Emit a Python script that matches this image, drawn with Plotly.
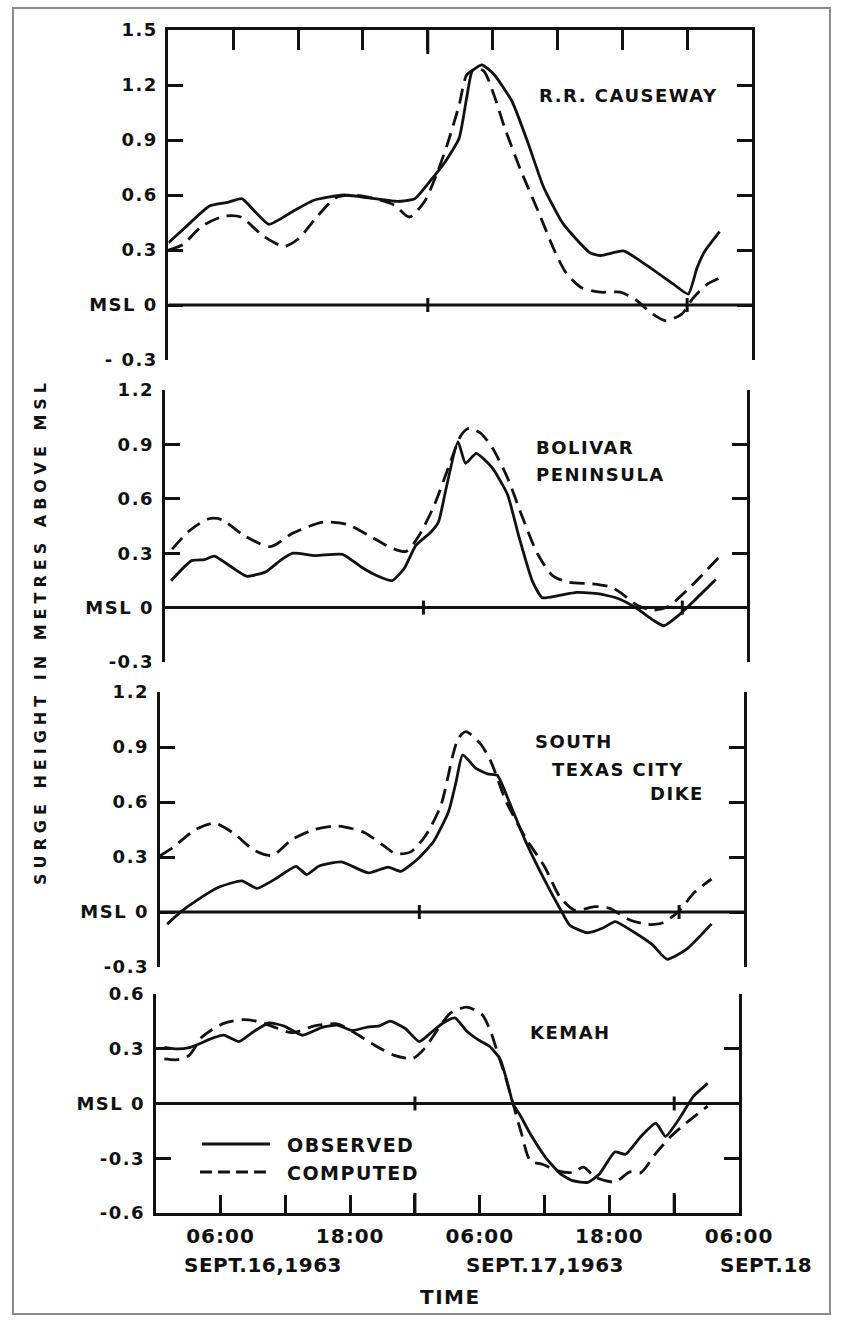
import plotly.graph_objects as go

# Time axis: hours after 00:00, Sept. 16, 1963
# ---------------- R.R. CAUSEWAY ----------------
rr_obs_t = [0.0, 1.5, 3.8, 5.5, 6.8, 8.0, 9.3, 11.5, 13.4, 16.2, 19.1, 21.2, 22.8, 24.2, 25.6,
            26.9, 27.6, 28.1, 29.0, 30.1, 31.8, 33.3, 34.7, 36.5, 39.0, 40.0, 42.1, 44.3, 46.7,
            48.1, 48.9, 49.6, 51.0]
rr_obs_v = [0.34, 0.42, 0.54, 0.56, 0.58, 0.51, 0.44, 0.51, 0.57, 0.60, 0.58, 0.565, 0.58, 0.675,
            0.78, 0.91, 1.13, 1.275, 1.31, 1.26, 1.11, 0.88, 0.645, 0.445, 0.285, 0.27, 0.295,
            0.215, 0.115, 0.06, 0.20, 0.29, 0.40]
rr_cmp_t = [0.0, 1.35, 3.1, 5.2, 6.7, 8.8, 10.7, 12.0, 13.8, 15.5, 17.0, 19.1, 20.9, 22.3, 23.7,
            24.8, 25.8, 26.9, 27.6, 28.5, 29.2, 30.1, 31.1, 32.6, 34.3, 35.7, 36.8, 38.2, 40.0,
            41.8, 43.2, 44.6, 46.0, 47.5, 48.5, 49.9, 51.5]
rr_cmp_v = [0.30, 0.33, 0.43, 0.485, 0.48, 0.375, 0.32, 0.36, 0.485, 0.585, 0.60, 0.58, 0.545,
            0.48, 0.565, 0.71, 0.875, 1.09, 1.255, 1.29, 1.275, 1.15, 0.97, 0.735, 0.50, 0.30,
            0.175, 0.095, 0.07, 0.07, 0.03, -0.04, -0.085, -0.05, 0.035, 0.115, 0.16]

# ---------------- BOLIVAR PENINSULA ----------------
bp_obs_t = [0.6, 2.5, 3.7, 4.6, 6.2, 7.6, 9.4, 10.8, 11.9, 14.0, 16.5, 18.3, 19.7, 21.1, 22.2,
            23.3, 24.7, 25.4, 26.1, 27.2, 27.9, 28.9, 30.4, 31.8, 32.8, 34.1, 35.0, 36.4, 38.2,
            40.3, 42.1, 43.8, 45.3, 46.3, 47.7, 49.2, 51.1]
bp_obs_v = [0.148, 0.259, 0.265, 0.284, 0.224, 0.173, 0.198, 0.263, 0.30, 0.287, 0.294, 0.221,
            0.176, 0.149, 0.214, 0.343, 0.417, 0.473, 0.657, 0.915, 0.796, 0.851, 0.769, 0.623,
            0.403, 0.146, 0.055, 0.065, 0.084, 0.076, 0.049, -0.005, -0.069, -0.10, -0.04,
            0.044, 0.155]
bp_cmp_t = [0.7, 2.3, 4.1, 5.3, 7.3, 9.8, 11.9, 14.7, 16.9, 19.0, 21.1, 22.4, 23.6, 25.0, 26.4,
            27.5, 28.2, 29.3, 30.4, 31.8, 33.2, 34.6, 36.0, 37.5, 39.6, 41.4, 42.4, 43.8, 45.3,
            46.7, 48.8, 51.5]
bp_cmp_v = [0.322, 0.424, 0.49, 0.485, 0.40, 0.336, 0.411, 0.471, 0.459, 0.396, 0.327, 0.31,
            0.398, 0.564, 0.786, 0.952, 0.989, 0.962, 0.88, 0.715, 0.495, 0.294, 0.175, 0.139,
            0.131, 0.113, 0.077, 0.013, -0.014, 0.006, 0.117, 0.284]

# ---------------- SOUTH TEXAS CITY DIKE ----------------
tc_obs_t = [0.7, 1.9, 3.4, 5.5, 7.6, 9.0, 10.8, 12.6, 13.6, 14.7, 16.8, 19.3, 21.1, 22.3, 23.9,
            25.3, 26.7, 27.4, 28.0, 29.2, 30.3, 31.2, 32.4, 33.8, 35.6, 37.0, 37.9, 39.5, 40.9,
            42.1, 43.7, 45.5, 46.9, 48.7, 51.0]
tc_obs_v = [-0.066, -0.002, 0.062, 0.136, 0.17, 0.129, 0.184, 0.249, 0.204, 0.25, 0.273, 0.213,
            0.245, 0.222, 0.292, 0.383, 0.547, 0.711, 0.857, 0.785, 0.753, 0.746, 0.587, 0.388,
            0.171, 0.018, -0.072, -0.113, -0.089, -0.052, -0.105, -0.177, -0.258, -0.203,
            -0.065]
tc_cmp_t = [0.0, 1.2, 3.4, 5.1, 6.9, 8.7, 10.4, 12.2, 14.3, 16.5, 18.9, 20.7, 21.8, 23.2, 24.6,
            26.0, 27.1, 27.6, 28.3, 29.6, 30.6, 32.0, 33.8, 35.6, 37.0, 38.4, 40.2, 41.6, 43.4,
            45.1, 46.5, 48.0, 49.4, 51.0]
tc_cmp_v = [0.305, 0.351, 0.452, 0.484, 0.427, 0.338, 0.308, 0.394, 0.45, 0.469, 0.434, 0.362,
            0.318, 0.328, 0.419, 0.583, 0.856, 0.947, 0.984, 0.921, 0.822, 0.605, 0.406, 0.244,
            0.081, 0.009, 0.029, 0.02, -0.042, -0.068, -0.059, 0.006, 0.106, 0.18]

# ---------------- KEMAH ----------------
km_obs_t = [0.8, 2.0, 3.1, 4.1, 5.2, 6.3, 7.7, 9.1, 10.5, 11.9, 13.6, 15.4, 16.8, 18.2, 19.6,
            20.7, 21.7, 23.1, 24.4, 25.6, 26.6, 27.7, 28.8, 29.8, 30.9, 31.9, 32.6, 33.1, 33.7,
            34.7, 36.1, 37.5, 38.6, 40.0, 41.1, 42.5, 43.5, 44.9, 46.3, 47.2, 48.4, 49.8, 51.1]
km_obs_v = [0.308, 0.299, 0.306, 0.329, 0.357, 0.375, 0.339, 0.395, 0.442, 0.424, 0.374, 0.417,
            0.43, 0.40, 0.419, 0.425, 0.451, 0.411, 0.339, 0.394, 0.441, 0.469, 0.396, 0.351,
            0.314, 0.242, 0.105, -0.005, -0.06, -0.169, -0.296, -0.387, -0.423, -0.432, -0.385,
            -0.266, -0.278, -0.182, -0.108, -0.18, -0.089, 0.04, 0.11]
km_cmp_t = [0.8, 2.0, 3.1, 4.3, 6.3, 8.0, 9.4, 10.8, 12.6, 14.7, 16.8, 18.6, 20.3, 22.1, 23.8,
            24.9, 26.3, 27.3, 28.8, 30.2, 31.0, 31.6, 32.4, 33.1, 33.8, 34.7, 35.8, 37.2, 38.6,
            39.6, 40.7, 42.5, 43.9, 44.9, 46.3, 47.7, 49.1, 51.1]
km_cmp_v = [0.244, 0.24, 0.264, 0.365, 0.439, 0.459, 0.45, 0.423, 0.388, 0.425, 0.436, 0.381,
            0.318, 0.264, 0.247, 0.302, 0.422, 0.496, 0.528, 0.488, 0.397, 0.287, 0.141, -0.005,
            -0.151, -0.316, -0.333, -0.369, -0.378, -0.349, -0.404, -0.43, -0.375, -0.38,
            -0.273, -0.18, -0.107, -0.014]

# station names, one list of text lines per panel
station_lines = [["R.R. CAUSEWAY"], ["BOLIVAR", "PENINSULA"],
                 ["SOUTH", "TEXAS CITY", "DIKE"], ["KEMAH"]]

# y-axis ticks per panel
y_ranges = [[-0.3, 1.5], [-0.3, 1.2], [-0.3, 1.2], [-0.6, 0.6]]
y_tickvals = [[1.5, 1.2, 0.9, 0.6, 0.3, 0.0, -0.3],
              [1.2, 0.9, 0.6, 0.3, 0.0, -0.3],
              [1.2, 0.9, 0.6, 0.3, 0.0, -0.3],
              [0.6, 0.3, 0.0, -0.3, -0.6]]
y_ticktext = [["1.5", "1.2", "0.9", "0.6", "0.3", "MSL 0", "- 0.3"],
              ["1.2", "0.9", "0.6", "0.3", "MSL 0", "-0.3"],
              ["1.2", "0.9", "0.6", "0.3", "MSL 0", "-0.3"],
              ["0.6", "0.3", "MSL 0", "-0.3", "-0.6"]]

# time axis
x_range = [0, 54]
x_tickvals = [6, 12, 18, 24, 30, 36, 42, 48, 54]
x_ticktext = ["06:00", "", "18:00", "", "06:00", "", "18:00", "", "06:00"]
day_labels = ["SEPT.16,1963", "SEPT.17,1963", "SEPT.18"]
day_label_x = [9.9, 36.0, 56.5]
day_ticks = [24, 48]

# ---------------- figure geometry (pixels) ----------------
FW, FH = 843, 1324
ML, MR, MT, MB = 150, 83, 25, 100
PW = FW - ML - MR
PH = FH - MT - MB


def px_x(px):
    return (px - ML) / PW


def px_y(py):
    return (FH - MB - py) / PH


panel_x = [(168.4, 752.0), (164.6, 747.0), (159.6, 744.0), (155.7, 739.0)]
panel_y = [(30, 360), (390, 662), (692, 967), (994, 1213)]
# pixel (left, centre-y) of each line of the station names
label_px = [[(537, 96)], [(534, 447), (534, 474)],
            [(533, 742), (550, 769), (648, 793)], [(528, 1032)]]

FONT = "DejaVu Sans, Verdana, sans-serif"
INK = "#111111"


def spaced(text, sp):
    return f'<span style="letter-spacing:{sp}px">{text}</span>'


def x_hours_to_px(h):
    left, right = panel_x[3]
    return left + (right - left) * (h - x_range[0]) / (x_range[1] - x_range[0])


fig = go.Figure()

series = [
    (rr_obs_t, rr_obs_v, rr_cmp_t, rr_cmp_v),
    (bp_obs_t, bp_obs_v, bp_cmp_t, bp_cmp_v),
    (tc_obs_t, tc_obs_v, tc_cmp_t, tc_cmp_v),
    (km_obs_t, km_obs_v, km_cmp_t, km_cmp_v),
]

for i, (ot, ov, ct, cv) in enumerate(series):
    n = "" if i == 0 else str(i + 1)
    fig.add_trace(go.Scatter(x=ct, y=cv, mode="lines", xaxis="x" + n, yaxis="y" + n,
                             line=dict(color=INK, width=2.8, dash="15px,8px",
                                       shape="spline", smoothing=0.7),
                             name="COMPUTED", showlegend=False))
    fig.add_trace(go.Scatter(x=ot, y=ov, mode="lines", xaxis="x" + n, yaxis="y" + n,
                             line=dict(color=INK, width=2.8, shape="spline", smoothing=0.5),
                             name="OBSERVED", showlegend=False))

layout = dict(width=FW, height=FH, margin=dict(l=ML, r=MR, t=MT, b=MB),
              paper_bgcolor="white", plot_bgcolor="white", showlegend=False,
              font=dict(family=FONT, color=INK))

tickfont = dict(family=FONT, size=18, color=INK, weight="bold")

for i in range(4):
    n = "" if i == 0 else str(i + 1)
    xd = [px_x(panel_x[i][0]), px_x(panel_x[i][1])]
    yd = [px_y(panel_y[i][1]), px_y(panel_y[i][0])]
    xa = dict(domain=xd, range=x_range, anchor="y" + n, showgrid=False, zeroline=False,
              fixedrange=True)
    if i == 0:
        xa.update(side="top", showline=True, linewidth=3, linecolor=INK, ticks="inside",
                  tickvals=x_tickvals[:-1], ticklen=20, tickwidth=3, tickcolor=INK,
                  showticklabels=False)
    elif i == 3:
        xa.update(side="bottom", showline=True, linewidth=3, linecolor=INK, ticks="inside",
                  tickvals=x_tickvals, ticktext=[spaced(t, 1) for t in x_ticktext],
                  ticklen=18, tickwidth=3, tickcolor=INK, ticklabelstandoff=3,
                  tickfont=dict(family=FONT, size=20, color=INK, weight="bold"))
    else:
        xa.update(visible=False)
    ya = dict(domain=yd, range=y_ranges[i], anchor="x" + n, showgrid=False, zeroline=False,
              showline=True, linewidth=3, linecolor=INK, mirror="ticks", ticks="inside",
              ticklen=15, tickwidth=3, tickcolor=INK, tickvals=y_tickvals[i],
              ticktext=[spaced(t, 1.5) for t in y_ticktext[i]], tickfont=tickfont,
              ticklabelstandoff=4, fixedrange=True)
    layout["xaxis" + n] = xa
    layout["yaxis" + n] = ya

fig.update_layout(**layout)

shapes = []
for i in range(4):
    n = "" if i == 0 else str(i + 1)
    # mean sea level line
    shapes.append(dict(type="line", xref="x" + n, yref="y" + n, x0=x_range[0], x1=x_range[1],
                       y0=0, y1=0, line=dict(color=INK, width=3)))
    # day-boundary marks on the MSL line
    for d in day_ticks:
        shapes.append(dict(type="line", xref="x" + n, yref="y" + n, x0=d, x1=d,
                           ysizemode="pixel", yanchor=0, y0=-7, y1=7,
                           line=dict(color=INK, width=3)))
# longer day-boundary ticks on the time axis
for d in day_ticks:
    shapes.append(dict(type="line", xref="x4", yref="y4", x0=d, x1=d, ysizemode="pixel",
                       yanchor=y_ranges[3][0], y0=-12, y1=20, line=dict(color=INK, width=3)))
shapes.append(dict(type="line", xref="x", yref="y", x0=24, x1=24, ysizemode="pixel",
                   yanchor=y_ranges[0][1], y0=-24, y1=0, line=dict(color=INK, width=3)))

# legend samples
shapes.append(dict(type="line", xref="paper", yref="paper", x0=px_x(202), x1=px_x(270),
                   y0=px_y(1144), y1=px_y(1144), line=dict(color=INK, width=2.8)))
shapes.append(dict(type="line", xref="paper", yref="paper", x0=px_x(200), x1=px_x(270),
                   y0=px_y(1172), y1=px_y(1172),
                   line=dict(color=INK, width=2.8, dash="12px,6px")))

# page frame
shapes.append(dict(type="rect", xref="paper", yref="paper", x0=px_x(13), x1=px_x(830),
                   y0=px_y(1314), y1=px_y(8), line=dict(color="#8c8c8c", width=2)))

annotations = []
label_font = dict(family=FONT, size=18, color=INK, weight="bold")
for lines, positions in zip(station_lines, label_px):
    for txt, (lx, ly) in zip(lines, positions):
        annotations.append(dict(xref="paper", yref="paper", x=px_x(lx), y=px_y(ly),
                                xanchor="left", yanchor="middle", showarrow=False,
                                text=spaced(txt, 1.5), font=label_font))

# legend labels
for txt, ly in [("OBSERVED", 1145), ("COMPUTED", 1173)]:
    annotations.append(dict(xref="paper", yref="paper", x=px_x(285), y=px_y(ly),
                            xanchor="left", yanchor="middle", showarrow=False,
                            text=spaced(txt, 1.5),
                            font=dict(family=FONT, size=19, color=INK, weight="bold")))

# date labels beneath the time axis
for txt, dx in zip(day_labels, day_label_x):
    annotations.append(dict(xref="paper", yref="paper", x=px_x(x_hours_to_px(dx)),
                            y=px_y(1265), xanchor="center", yanchor="middle",
                            showarrow=False, text=spaced(txt, 0.5),
                            font=dict(family=FONT, size=20, color=INK, weight="bold")))
annotations.append(dict(xref="paper", yref="paper", x=px_x(x_hours_to_px(27.3)), y=px_y(1297),
                        xanchor="center", yanchor="middle", showarrow=False,
                        text=spaced("TIME", 1.5),
                        font=dict(family=FONT, size=20, color=INK, weight="bold")))

# vertical axis title
annotations.append(dict(xref="paper", yref="paper", x=px_x(40), y=px_y(632), xanchor="center",
                        yanchor="middle", showarrow=False, textangle=-90,
                        text=spaced("SURGE HEIGHT IN METRES ABOVE MSL", 5),
                        font=dict(family=FONT, size=16, color=INK, weight="bold")))

fig.update_layout(shapes=shapes, annotations=annotations)
fig.write_html("out.html")
